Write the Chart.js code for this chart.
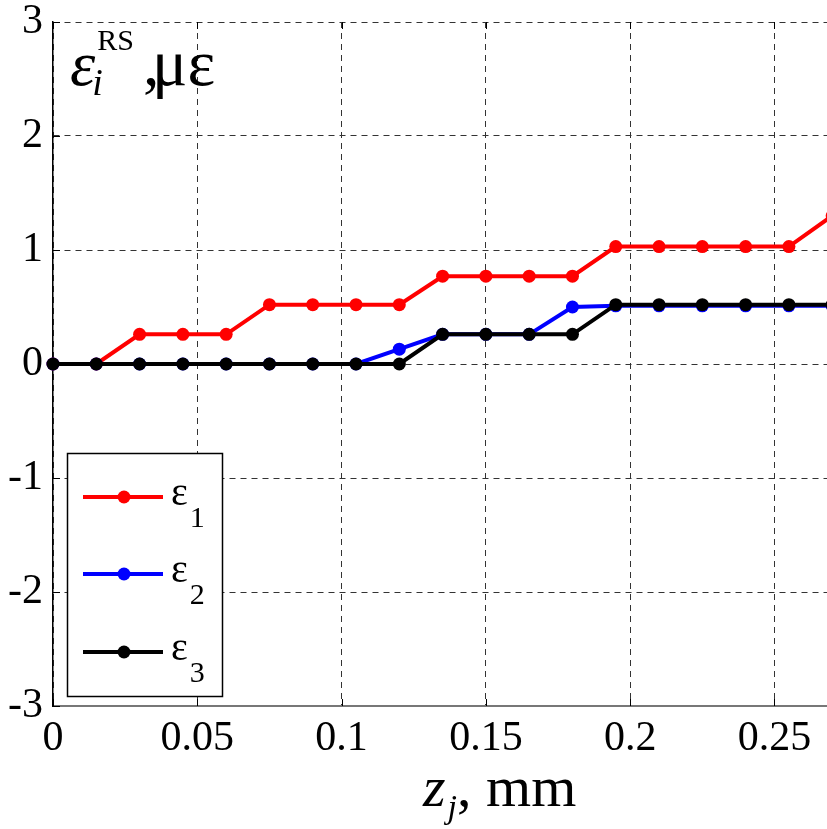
<!DOCTYPE html>
<html>
<head>
<meta charset="utf-8">
<script src="https://cdn.jsdelivr.net/npm/chart.js@4.4.0/dist/chart.umd.min.js"></script>
<style>
    html, body { margin: 0; padding: 0; background: #fff; overflow: hidden; }
</style>
</head>
<body>
<canvas id="grafikRegangan" width="827" height="829"></canvas>
<script>
// posisi z_j (mm)
const zVals = [0, 0.015, 0.03, 0.045, 0.06, 0.075, 0.09, 0.105, 0.12, 0.135,
    0.15, 0.165, 0.18, 0.195, 0.21, 0.225, 0.24, 0.255, 0.27];
// regangan (με)
const eps1 = [0, 0, 0.26, 0.26, 0.26, 0.52, 0.52, 0.52, 0.52, 0.77,
    0.77, 0.77, 0.77, 1.03, 1.03, 1.03, 1.03, 1.03, 1.30];
const eps2 = [0, 0, 0, 0, 0, 0, 0, 0, 0.13, 0.26,
    0.26, 0.26, 0.50, 0.51, 0.51, 0.51, 0.51, 0.51, 0.51];
const eps3 = [0, 0, 0, 0, 0, 0, 0, 0, 0, 0.26,
    0.26, 0.26, 0.26, 0.52, 0.52, 0.52, 0.52, 0.52, 0.52];

const xTicks = [0, 0.05, 0.1, 0.15, 0.2, 0.25];
const yTicks = [-3, -2, -1, 0, 1, 2, 3];

const seriesNames = ['ε', 'ε', 'ε'];
const seriesSubs = ['1', '2', '3'];
const seriesColors = ['#ff0000', '#0000ff', '#000000'];

const serif = '"Liberation Serif", "Times New Roman", serif';

function toPoints(values) {
    return zVals.map(function (z, i) {
        return { x: z, y: values[i] };
    });
}

// tulis teks, kembalikan posisi x setelahnya
function tulis(ctx, text, x, y, font) {
    ctx.font = font;
    ctx.fillText(text, x, y);
    return x + ctx.measureText(text).width;
}

function tanpaPadding(scale) {
    scale.paddingTop = 0;
    scale.paddingBottom = 0;
    scale.paddingLeft = 0;
    scale.paddingRight = 0;
}

const hiasan = {
    id: 'hiasan',
    beforeDatasetsDraw: function (chart) {
        const ctx = chart.ctx;
        const area = chart.chartArea;
        ctx.save();
        ctx.strokeStyle = '#000';
        ctx.lineWidth = 1;
        ctx.beginPath();
        yTicks.forEach(function (v) {
            let y = Math.round(chart.scales.y.getPixelForValue(v)) + 0.5;
            ctx.moveTo(area.left, y);
            ctx.lineTo(area.left + 7, y);
        });
        xTicks.forEach(function (v) {
            let x = Math.round(chart.scales.x.getPixelForValue(v)) + 0.5;
            ctx.moveTo(x, area.bottom);
            ctx.lineTo(x, area.bottom - 7);
            ctx.moveTo(x, area.top);
            ctx.lineTo(x, area.top + 7);
        });
        ctx.stroke();
        ctx.restore();
    },
    afterDraw: function (chart) {
        const ctx = chart.ctx;
        ctx.save();
        ctx.fillStyle = '#000';
        ctx.textBaseline = 'alphabetic';

        // label sumbu y di dalam area plot
        let x = tulis(ctx, 'ε', 70, 85, 'italic 64px ' + serif);
        tulis(ctx, 'i', x - 3, 95, 'italic 38px ' + serif);
        tulis(ctx, 'RS', x + 2, 50, '30px ' + serif);
        tulis(ctx, ',', 143, 85, '66px ' + serif);
        tulis(ctx, 'με', 152, 85, '66px ' + serif);

        // judul sumbu x
        x = tulis(ctx, 'z', 423, 806, 'italic 58px ' + serif);
        x = tulis(ctx, 'j', x + 2, 818, 'italic 34px ' + serif);
        tulis(ctx, ', mm', x, 806, '58px ' + serif);

        // legenda
        ctx.fillStyle = '#fff';
        ctx.fillRect(67, 453, 155, 243);
        ctx.strokeStyle = '#000';
        ctx.lineWidth = 1.5;
        ctx.strokeRect(67.5, 453.5, 155, 243);
        const rows = [497, 574, 652];
        chart.data.datasets.forEach(function (ds, i) {
            let y = rows[i];
            ctx.strokeStyle = ds.borderColor;
            ctx.lineWidth = 4;
            ctx.beginPath();
            ctx.moveTo(83, y);
            ctx.lineTo(163, y);
            ctx.stroke();
            ctx.fillStyle = ds.borderColor;
            ctx.beginPath();
            ctx.arc(124, y, 6.5, 0, Math.PI * 2);
            ctx.fill();
            ctx.fillStyle = '#000';
            let xe = tulis(ctx, seriesNames[i], 171, y + 8, '40px ' + serif);
            tulis(ctx, seriesSubs[i], xe + 2, y + 30, '30px ' + serif);
        });
        ctx.restore();
    }
};

const datasets = [eps1, eps2, eps3].map(function (values, i) {
    return {
        label: seriesNames[i] + seriesSubs[i],
        data: toPoints(values),
        borderColor: seriesColors[i],
        backgroundColor: seriesColors[i],
        borderWidth: 4,
        pointRadius: 6.5,
        pointBorderWidth: 0,
        pointBackgroundColor: seriesColors[i],
        tension: 0,
        clip: false,
        order: 2 - i
    };
});

new Chart('grafikRegangan', {
    type: 'line',
    data: { datasets: datasets },
    options: {
        responsive: false,
        animation: false,
        events: [],
        layout: {
            autoPadding: false,
            padding: { top: 22, right: 0, left: 0, bottom: 0 }
        },
        plugins: {
            legend: { display: false },
            tooltip: { enabled: false }
        },
        scales: {
            x: {
                type: 'linear',
                min: 0,
                max: 0.2682,
                afterBuildTicks: function (scale) {
                    scale.ticks = xTicks.map(function (v) { return { value: v }; });
                },
                afterFit: function (scale) {
                    scale.height = 123;
                    tanpaPadding(scale);
                },
                grid: { color: '#333', lineWidth: 1, drawTicks: false },
                border: { display: true, color: '#777', width: 2, dash: [6, 5] },
                ticks: {
                    padding: 8,
                    color: '#000',
                    font: { family: serif, size: 42 },
                    maxRotation: 0,
                    callback: function (value) { return String(value); }
                }
            },
            y: {
                type: 'linear',
                min: -3,
                max: 3,
                afterBuildTicks: function (scale) {
                    scale.ticks = yTicks.map(function (v) { return { value: v }; });
                },
                afterFit: function (scale) {
                    scale.width = 53;
                    tanpaPadding(scale);
                },
                grid: { color: '#333', lineWidth: 1, drawTicks: false },
                border: { display: true, color: '#000', width: 1.5, dash: [6, 5] },
                ticks: {
                    padding: 10,
                    color: '#000',
                    font: { family: serif, size: 42 },
                    callback: function (value) { return String(value); }
                }
            }
        }
    },
    plugins: [hiasan]
});
</script>
</body>
</html>
